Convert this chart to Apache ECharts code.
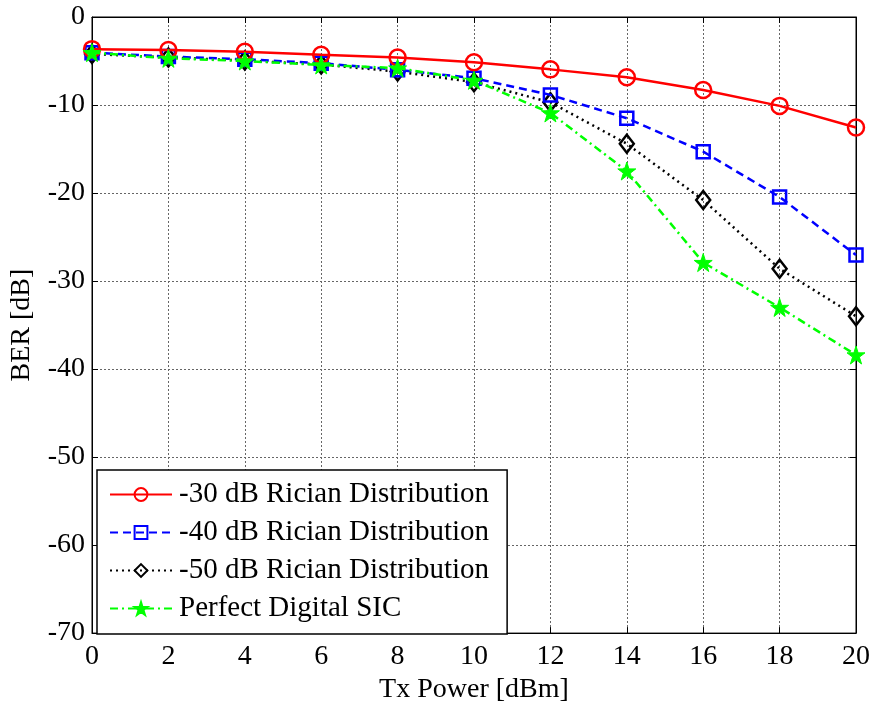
<!DOCTYPE html>
<html>
<head>
<meta charset="utf-8">
<script src="https://cdn.jsdelivr.net/npm/echarts@6/dist/echarts.min.js"></script>
<style>html,body{margin:0;padding:0;background:#fff;}#c{width:873px;height:709px;}</style>
</head>
<body>
<div id="c"></div>
<script>
const txPower = [0, 2, 4, 6, 8, 10, 12, 14, 16, 18, 20];
const xTicks = [0, 2, 4, 6, 8, 10, 12, 14, 16, 18, 20];
const yTicks = [0, -10, -20, -30, -40, -50, -60, -70];
const names = ['-30 dB Rician Distribution', '-40 dB Rician Distribution', '-50 dB Rician Distribution', 'Perfect Digital SIC'];
const ber30 = [-3.65, -3.75, -3.95, -4.3, -4.6, -5.15, -5.95, -6.85, -8.3, -10.1, -12.55];
const ber40 = [-4.05, -4.5, -4.8, -5.25, -6.0, -6.95, -8.85, -11.5, -15.3, -20.45, -27.05];
const ber50 = [-4.2, -4.6, -4.95, -5.4, -6.2, -7.4, -9.7, -14.4, -20.8, -28.6, -34.0];
const berSIC = [-4.05, -4.7, -5.0, -5.45, -5.8, -7.2, -10.9, -17.5, -27.9, -33.0, -38.4];

const star = 'path://M0,-1 L0.2245,-0.309 L0.951,-0.309 L0.363,0.118 L0.588,0.809 L0,0.382 L-0.588,0.809 L-0.363,0.118 L-0.951,-0.309 L-0.2245,-0.309 Z';
const font = '"Liberation Serif", "Times New Roman", serif';

function pairs(arr){ return txPower.map((x,i)=>[x, arr[i]]); }

const chart = echarts.init(document.getElementById('c'));
const axisCommon = {
  axisLine: {show: true, onZero: false, lineStyle: {color: '#000', width: 1}},
  axisTick: {show: true, inside: true, length: 6, lineStyle: {color: '#000'}},
};
chart.setOption({
  backgroundColor: '#fff',
  animation: false,
  grid: {left: 92, right: 16, top: 17, bottom: 75, show: true, borderColor: '#000', borderWidth: 1},
  xAxis: [
    Object.assign({
      type: 'value', min: 0, max: 20, interval: 2,
      name: 'Tx Power [dBm]', nameLocation: 'middle', nameGap: 40,
      nameTextStyle: {fontFamily: font, fontSize: 28, color: '#000'},
      axisLabel: {fontFamily: font, fontSize: 28, color: '#000', margin: 10},
      splitLine: {show: true, lineStyle: {color: '#666', type: [2, 2], width: 1}}
    }, axisCommon),
    Object.assign({
      type: 'value', min: 0, max: 20, interval: 2, position: 'top',
      axisLabel: {show: false}, splitLine: {show: false}
    }, axisCommon)
  ],
  yAxis: [
    Object.assign({
      type: 'value', min: -70, max: 0, interval: 10,
      name: 'BER [dB]', nameLocation: 'middle', nameGap: 56, nameRotate: 90,
      nameTextStyle: {fontFamily: font, fontSize: 28, color: '#000'},
      axisLabel: {fontFamily: font, fontSize: 28, color: '#000', margin: 7},
      splitLine: {show: true, lineStyle: {color: '#666', type: [2, 2], width: 1}}
    }, axisCommon),
    Object.assign({
      type: 'value', min: -70, max: 0, interval: 10, position: 'right',
      axisLabel: {show: false}, splitLine: {show: false}
    }, axisCommon)
  ],
  legend: {
    orient: 'vertical', left: 97, top: 470,
    backgroundColor: '#fff', borderColor: '#000', borderWidth: 1.5, borderRadius: 0,
    padding: [10, 18, 11, 12], itemGap: 9, itemWidth: 62, itemHeight: 16,
    textStyle: {fontFamily: font, fontSize: 29, lineHeight: 28, color: '#000', padding: [0, 0, 0, 2]},
    data: names
  },
  series: [
    {name: names[0], type: 'line', data: pairs(ber30), symbol: 'circle', symbolSize: 16,
     lineStyle: {color: '#ff0000', width: 2.5, type: 'solid'},
     itemStyle: {color: 'rgba(255,255,255,0)', borderColor: '#ff0000', borderWidth: 2.5}, z: 4},
    {name: names[1], type: 'line', data: pairs(ber40), symbol: 'rect', symbolSize: 13,
     lineStyle: {color: '#0000ff', width: 2.5, type: [8, 5]},
     itemStyle: {color: 'rgba(255,255,255,0)', borderColor: '#0000ff', borderWidth: 2.5}, z: 3},
    {name: names[2], type: 'line', data: pairs(ber50), symbol: 'diamond', symbolSize: [14, 18],
     lineStyle: {color: '#000000', width: 2.5, type: [2, 4]},
     itemStyle: {color: 'rgba(255,255,255,0)', borderColor: '#000000', borderWidth: 2.5}, z: 2},
    {name: names[3], type: 'line', data: pairs(berSIC), symbol: star, symbolSize: 18,
     lineStyle: {color: '#00ff00', width: 2.5, type: [8, 4, 2, 4]},
     itemStyle: {color: '#00ff00', borderColor: '#00ff00', borderWidth: 1}, z: 5}
  ]
});
</script>
</body>
</html>
